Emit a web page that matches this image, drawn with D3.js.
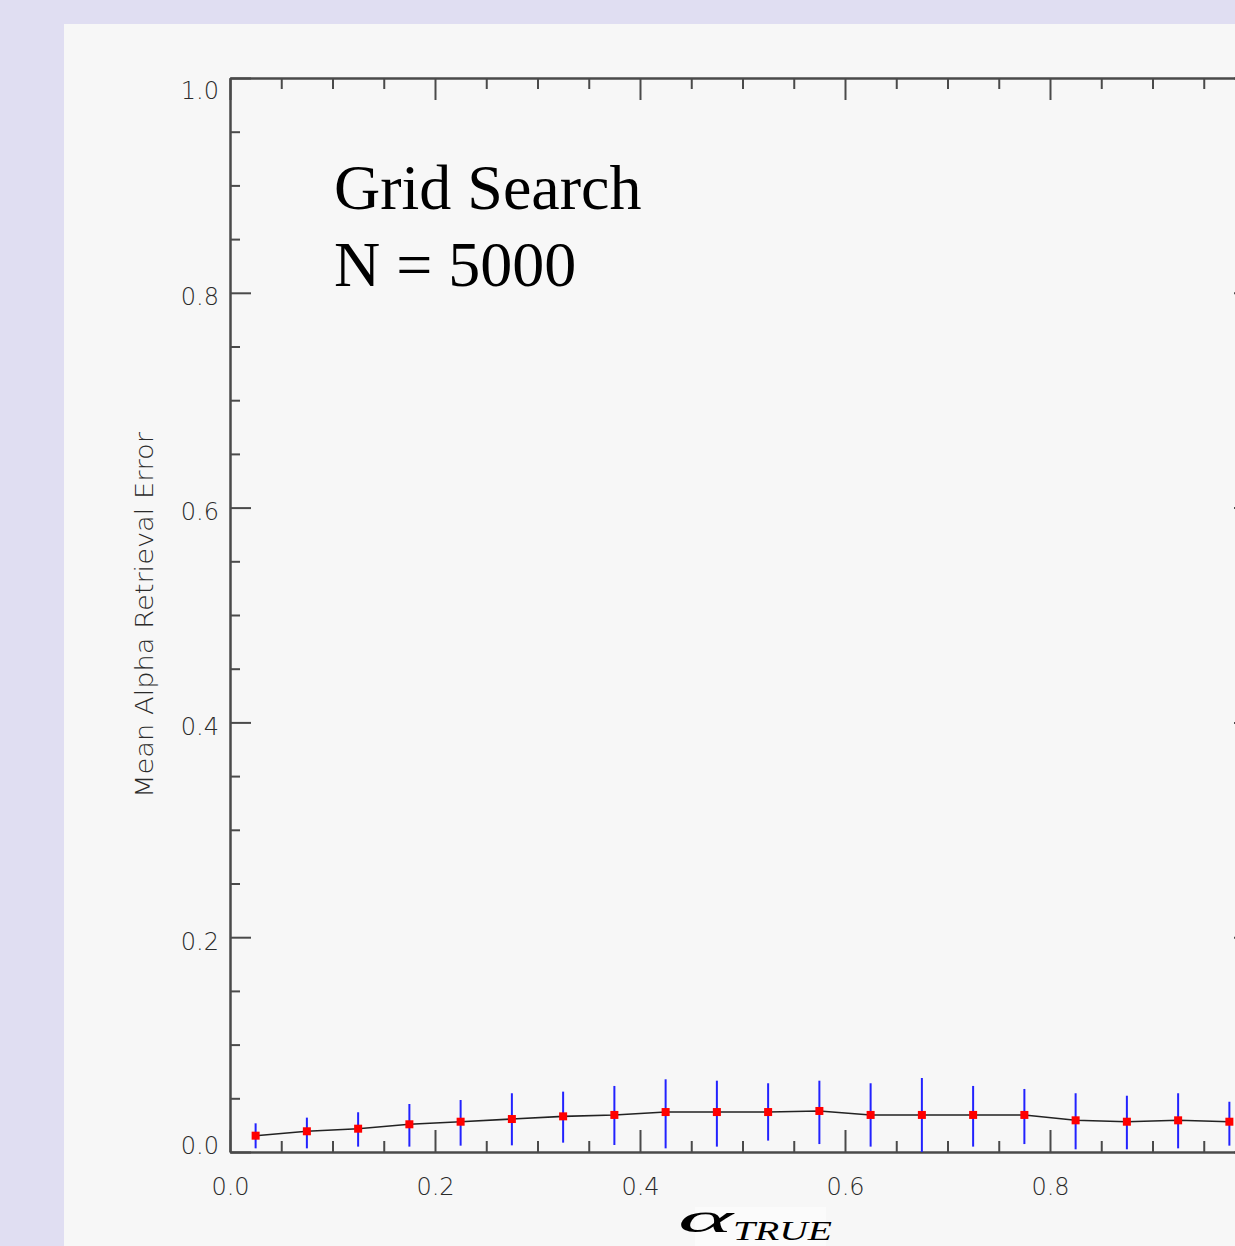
<!DOCTYPE html>
<html>
<head>
<meta charset="utf-8">
<script src="https://cdn.jsdelivr.net/npm/d3@7"></script>
<style>
  html, body { margin: 0; padding: 0; background: #e0def2; }
  svg { display: block; }
</style>
</head>
<body>
<svg id="chart" width="1235" height="1246"></svg>
<script>
// Retrieval error of alpha versus true alpha (grid search, N = 5000)
const alphaTrue = [0.025, 0.075, 0.125, 0.175, 0.225, 0.275, 0.325, 0.375, 0.425, 0.475,
                   0.525, 0.575, 0.625, 0.675, 0.725, 0.775, 0.825, 0.875, 0.925, 0.975];
const meanError = [0.0152, 0.0193, 0.0217, 0.0258, 0.0282, 0.0307, 0.0332, 0.0345, 0.0372, 0.0372,
                   0.0372, 0.0382, 0.0345, 0.0345, 0.0345, 0.0345, 0.0295, 0.0282, 0.0295, 0.0282];
const errorLow  = [0.0034, 0.0034, 0.0050, 0.0050, 0.0059, 0.0062, 0.0087, 0.0065, 0.0034, 0.0050,
                   0.0106, 0.0074, 0.0050, 0.0000, 0.0050, 0.0074, 0.0025, 0.0025, 0.0034, 0.0059];
const errorHigh = [0.0267, 0.0320, 0.0370, 0.0447, 0.0484, 0.0547, 0.0562, 0.0615, 0.0677, 0.0664,
                   0.0640, 0.0664, 0.0640, 0.0689, 0.0615, 0.0587, 0.0547, 0.0524, 0.0547, 0.0468];
const majorTicks = [0.0, 0.2, 0.4, 0.6, 0.8, 1.0];
const xLabelTicks = [0.0, 0.2, 0.4, 0.6, 0.8];
const minorTicks = [0.05, 0.1, 0.15, 0.25, 0.3, 0.35, 0.45, 0.5, 0.55, 0.65, 0.7, 0.75, 0.85, 0.9, 0.95];
const titleLines = ["Grid Search", "N = 5000"];
const yTitle = "Mean Alpha Retrieval Error";

const svg = d3.select("#chart");
const plot = { left: 230, top: 78, right: 1255, bottom: 1152 };

const x = d3.scaleLinear().domain([0, 1]).range([plot.left, plot.right]);
const y = d3.scaleLinear().domain([0, 1]).range([plot.bottom, plot.top]);

// light panel
svg.append("rect").attr("x", 64).attr("y", 24).attr("width", 1300).attr("height", 1300)
  .attr("fill", "#f7f7f7");

const axisColor = "#4a4a4a";
const fmt = d3.format(".1f");

function styleAxis(g) {
  g.select(".domain").attr("stroke", axisColor).attr("stroke-width", 2);
  g.selectAll(".tick line").attr("stroke", axisColor).attr("stroke-width", 2);
  g.selectAll(".tick text")
    .attr("fill", "#2a2a2a")
    .attr("font-family", "'DejaVu Sans', sans-serif")
    .attr("font-size", 24)
    .attr("font-weight", 300);
}

// left axis with labels, ticks pointing inward
const gLeft = svg.append("g").attr("transform", `translate(${plot.left},0)`)
  .call(d3.axisLeft(y).tickValues(majorTicks).tickFormat(fmt)
    .tickSizeInner(-21).tickSizeOuter(0).tickPadding(11));
styleAxis(gLeft);
gLeft.selectAll(".tick text").each(function(d) {
  const ty = y(d);
  const base = Math.min(Math.max(ty + 12, plot.top + 20), plot.bottom + 1);
  d3.select(this).attr("dy", null).attr("y", base - ty);
});
svg.append("g").attr("transform", `translate(${plot.left},0)`)
  .call(d3.axisLeft(y).tickValues(minorTicks).tickFormat("").tickSizeInner(-10).tickSizeOuter(0))
  .call(styleAxis);

// right axis
svg.append("g").attr("transform", `translate(${plot.right},0)`)
  .call(d3.axisRight(y).tickValues(majorTicks).tickFormat("").tickSizeInner(-21).tickSizeOuter(0))
  .call(styleAxis);
svg.append("g").attr("transform", `translate(${plot.right},0)`)
  .call(d3.axisRight(y).tickValues(minorTicks).tickFormat("").tickSizeInner(-10).tickSizeOuter(0))
  .call(styleAxis);

// bottom axis: major ticks, labels, minor ticks
svg.append("g").attr("transform", `translate(0,${plot.bottom})`)
  .call(d3.axisBottom(x).tickValues(majorTicks).tickFormat("")
    .tickSizeInner(-22).tickSizeOuter(0))
  .call(styleAxis);
const gBottom = svg.append("g").attr("transform", `translate(0,${plot.bottom})`)
  .call(d3.axisBottom(x).tickValues(xLabelTicks).tickFormat(fmt)
    .tickSizeInner(0).tickSizeOuter(0));
styleAxis(gBottom);
gBottom.select(".domain").remove();
gBottom.selectAll(".tick line").remove();
gBottom.selectAll(".tick text").attr("dy", null).attr("y", 43);
svg.append("g").attr("transform", `translate(0,${plot.bottom})`)
  .call(d3.axisBottom(x).tickValues(minorTicks).tickFormat("").tickSizeInner(-11).tickSizeOuter(0))
  .call(styleAxis);

// top axis
svg.append("g").attr("transform", `translate(0,${plot.top})`)
  .call(d3.axisTop(x).tickValues(majorTicks).tickFormat("").tickSizeInner(-22).tickSizeOuter(0))
  .call(styleAxis);
svg.append("g").attr("transform", `translate(0,${plot.top})`)
  .call(d3.axisTop(x).tickValues(minorTicks).tickFormat("").tickSizeInner(-11).tickSizeOuter(0))
  .call(styleAxis);

// y axis title
svg.append("text")
  .attr("transform", `translate(153,${(plot.top + plot.bottom) / 2}) rotate(-90)`)
  .attr("text-anchor", "middle")
  .attr("font-family", "'DejaVu Sans', sans-serif")
  .attr("font-size", 24)
  .attr("font-weight", 300)
  .attr("fill", "#2a2a2a")
  .attr("textLength", 366)
  .attr("lengthAdjust", "spacingAndGlyphs")
  .text(yTitle);

// x axis title: alpha with TRUE subscript
svg.append("rect").attr("x", 695).attr("y", 1207).attr("width", 131).attr("height", 40)
  .attr("fill", "#fbfbfb");
svg.append("text")
  .attr("x", 678).attr("y", 1232)
  .attr("font-family", "'Liberation Serif', serif")
  .attr("font-style", "italic")
  .attr("font-size", 42)
  .attr("fill", "#000")
  .attr("textLength", 55)
  .attr("lengthAdjust", "spacingAndGlyphs")
  .text("α");
svg.append("text")
  .attr("x", 733).attr("y", 1240)
  .attr("font-family", "'Liberation Serif', serif")
  .attr("font-style", "italic")
  .attr("font-size", 28)
  .attr("fill", "#000")
  .attr("textLength", 99)
  .attr("lengthAdjust", "spacingAndGlyphs")
  .text("TRUE");

// annotation
svg.append("g").selectAll("text").data(titleLines).join("text")
  .attr("x", 334)
  .attr("y", (d, i) => 209 + i * 77)
  .attr("font-family", "'Liberation Serif', 'Times New Roman', serif")
  .attr("font-size", 64)
  .attr("fill", "#000")
  .text(d => d);

// data
const pts = alphaTrue.map((a, i) => ({ a, m: meanError[i], lo: errorLow[i], hi: errorHigh[i] }));

svg.append("path")
  .datum(pts)
  .attr("fill", "none")
  .attr("stroke", "#222")
  .attr("stroke-width", 1.6)
  .attr("d", d3.line().x(d => x(d.a)).y(d => y(d.m)));

svg.append("g").selectAll("line").data(pts).join("line")
  .attr("x1", d => x(d.a)).attr("x2", d => x(d.a))
  .attr("y1", d => y(d.lo)).attr("y2", d => y(d.hi))
  .attr("stroke", "#2222ff")
  .attr("stroke-width", 2);

const s = 8;
svg.append("g").selectAll("rect").data(pts).join("rect")
  .attr("x", d => x(d.a) - s / 2).attr("y", d => y(d.m) - s / 2)
  .attr("width", s).attr("height", s)
  .attr("fill", "#ff0000");
</script>
</body>
</html>
